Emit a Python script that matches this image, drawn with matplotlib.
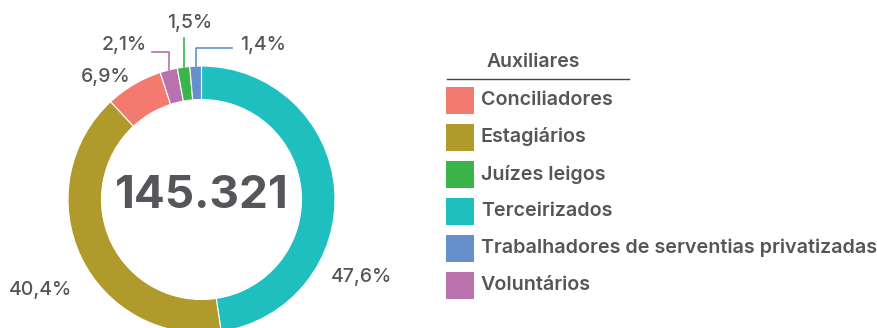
import matplotlib
matplotlib.use("Agg")
import matplotlib.pyplot as plt
from matplotlib.patches import Rectangle
import numpy as np

plt.rcParams['font.family'] = ['Inter', 'DejaVu Sans']

# Data: share of auxiliary staff, clockwise from 12 o'clock
categories = ["Terceirizados", "Estagiários", "Conciliadores", "Voluntários",
              "Juízes leigos", "Trabalhadores de serventias privatizadas"]
shares = [47.6, 40.4, 6.9, 2.1, 1.5, 1.4]
colors = ["#1FBFC0", "#B09A2B", "#F47A70", "#B972AE", "#3BB54A", "#6690CC"]
total_label = "145.321"

legend_title = "Auxiliares"
legend_order = ["Conciliadores", "Estagiários", "Juízes leigos", "Terceirizados",
                "Trabalhadores de serventias privatizadas", "Voluntários"]

W, H = 877, 328
TEXT = "#555659"

fig = plt.figure(figsize=(W / 100, H / 100), dpi=100)
ax = fig.add_axes([0, 0, 1, 1])

cx, cy = 201.5, H - 199.5
r_out, ring = 133.5, 33.5

ax.pie(shares, colors=colors, startangle=90, counterclock=False,
       radius=r_out, center=(cx, cy),
       wedgeprops=dict(width=ring, edgecolor="white", linewidth=0.8))
ax.set_xlim(0, W)
ax.set_ylim(0, H)
ax.set_aspect("equal")
ax.axis("off")

# Centre total
ax.text(cx, H - 196, total_label, ha="center", va="center",
        fontsize=33, fontweight="bold", color=TEXT)

# Mid-angles of each wedge (degrees, clockwise from top)
tot = sum(shares)
cum = np.cumsum([0] + shares)
mid = {c: (cum[i] + shares[i] / 2) / tot * 360 for i, c in enumerate(categories)}


def edge_point(cat):
    a = np.deg2rad(mid[cat])
    return cx + r_out * np.sin(a), cy + r_out * np.cos(a)


def pct(v):
    return f"{v:.1f}%".replace(".", ",")


lab = dict(fontsize=14, color=TEXT, va="center", fontweight="medium")

# Large slices: plain labels
ax.text(361, H - 277, pct(shares[0]), ha="center", **lab)
ax.text(41, H - 290, pct(shares[1]), ha="center", **lab)
ax.text(106, H - 77, pct(shares[2]), ha="center", **lab)

# Small slices: labels with leader lines
x0, y0 = edge_point("Voluntários")
ax.plot([x0, x0, 152], [y0, H - 52, H - 52], color=colors[3], lw=1.2)
ax.text(147, H - 45, pct(shares[3]), ha="right", **lab)

x0, y0 = edge_point("Juízes leigos")
ax.plot([x0, x0], [y0, H - 38], color=colors[4], lw=1.2)
ax.text(190, H - 23, pct(shares[4]), ha="center", **lab)

x0, y0 = edge_point("Trabalhadores de serventias privatizadas")
ax.plot([x0, x0, 232], [y0, H - 48, H - 48], color=colors[5], lw=1.2)
ax.text(240, H - 45, pct(shares[5]), ha="left", **lab)

# Legend
ax.text(533, H - 62, legend_title, ha="center", va="center",
        fontsize=14, fontweight="semibold", color=TEXT)
ax.plot([447, 629], [H - 79, H - 79], color="#444444", lw=1)
color_of = dict(zip(categories, colors))
for i, name in enumerate(legend_order):
    yc = H - (100 + i * 37)
    ax.add_patch(Rectangle((446, yc - 13.5), 27.5, 27, color=color_of[name], lw=0))
    ax.text(481, yc, name, ha="left", va="center", fontsize=14.2,
            fontweight="semibold", color=TEXT)

fig.savefig("out.png", dpi=100)
